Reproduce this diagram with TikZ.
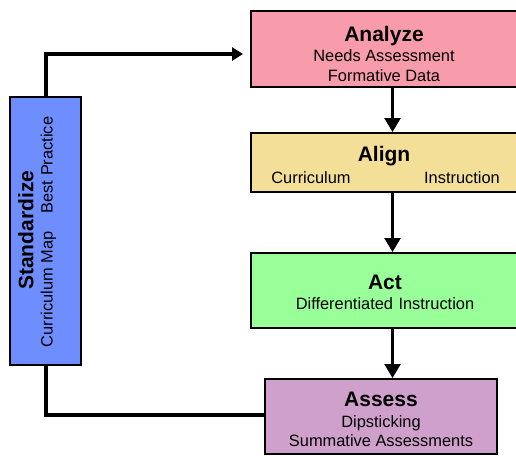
\documentclass[tikz,border=0pt]{standalone}
\usepackage{fontspec}
\setmainfont{Liberation Sans}
\usetikzlibrary{arrows.meta}

\definecolor{analyzefill}{HTML}{F89CAC}
\definecolor{alignfill}{HTML}{F3DF98}
\definecolor{actfill}{HTML}{99FF99}
\definecolor{assessfill}{HTML}{D0A0CC}
\definecolor{stdfill}{HTML}{6E8EFF}

\tikzset{
  stage/.style={draw=black, line width=2pt, inner sep=0pt, outer sep=0pt},
  ttl/.style={anchor=base, inner sep=0pt, font=\fontsize{21}{24}\selectfont\bfseries},
  sub/.style={anchor=base, inner sep=0pt, font=\fontsize{16.4}{19}\selectfont},
  flow/.style={line width=2.5pt, -{Triangle[length=14pt, width=16pt]}},
  loop/.style={line width=4pt},
}

\begin{document}
\begin{tikzpicture}[x=1pt, y=-1pt]
  \clip (0,0) rectangle (516,455);
  \fill[white] (0,0) rectangle (516,455);

  % stage boxes
  \node[stage, fill=analyzefill, minimum width=268pt, minimum height=76pt] (an) at (385,49) {};
  \node[stage, fill=alignfill,   minimum width=268pt, minimum height=59pt] (al) at (385,162.5) {};
  \node[stage, fill=actfill,     minimum width=268pt, minimum height=75pt] (ac) at (385,290.5) {};
  \node[stage, fill=assessfill,  minimum width=232pt, minimum height=75pt] (as) at (381,416.5) {};
  \node[stage, fill=stdfill,     minimum width=71pt,  minimum height=268pt] (std) at (45.5,231) {};

  % box texts
  \node[ttl] (an-t)  at (384,41.5) {Analyze};
  \node[sub] (an-s1) at (384,61.7) {Needs Assessment};
  \node[sub] (an-s2) at (384,81.5) {Formative Data};

  \node[ttl] (al-t)  at (384,161.7) {Align};
  \node[sub] (al-s1) at (311,183.3) {Curriculum};
  \node[sub] (al-s2) at (462,183.3) {Instruction};

  \node[ttl] (ac-t)  at (385,289) {Act};
  \node[sub] (ac-s1) at (385,309) {Differentiated\,\,Instruction};

  \node[ttl] (as-t)  at (381,406.7) {Assess};
  \node[sub] (as-s1) at (381,427.3) {Dipsticking};
  \node[sub] (as-s2) at (381,446.7) {Summative Assessments};

  \node[ttl, rotate=90] (std-t)  at (33.3,230.3) {Standardize};
  \node[sub, rotate=90] (std-s1) at (52.5,289.5) {Curriculum Map};
  \node[sub, rotate=90] (std-s2) at (52.5,165) {Best Practice};

  % flow between stages
  \draw[flow] ([xshift=7.5pt]an.south) -- ([xshift=7.5pt, yshift=1pt]al.north);
  \draw[flow] ([xshift=7.5pt]al.south) -- ([xshift=7.5pt, yshift=1pt]ac.north);
  \draw[flow] ([xshift=7.5pt]ac.south) -- ([xshift=11.5pt, yshift=1pt]as.north);

  % feedback loop through Standardize
  \coordinate (an-in) at (243,54);
  \draw[loop, -{Triangle[length=11pt, width=13pt]}] (std.north) |- (an-in);
  \draw[loop] (std.south) |- ([yshift=2pt]as.west);
\end{tikzpicture}
\end{document}
